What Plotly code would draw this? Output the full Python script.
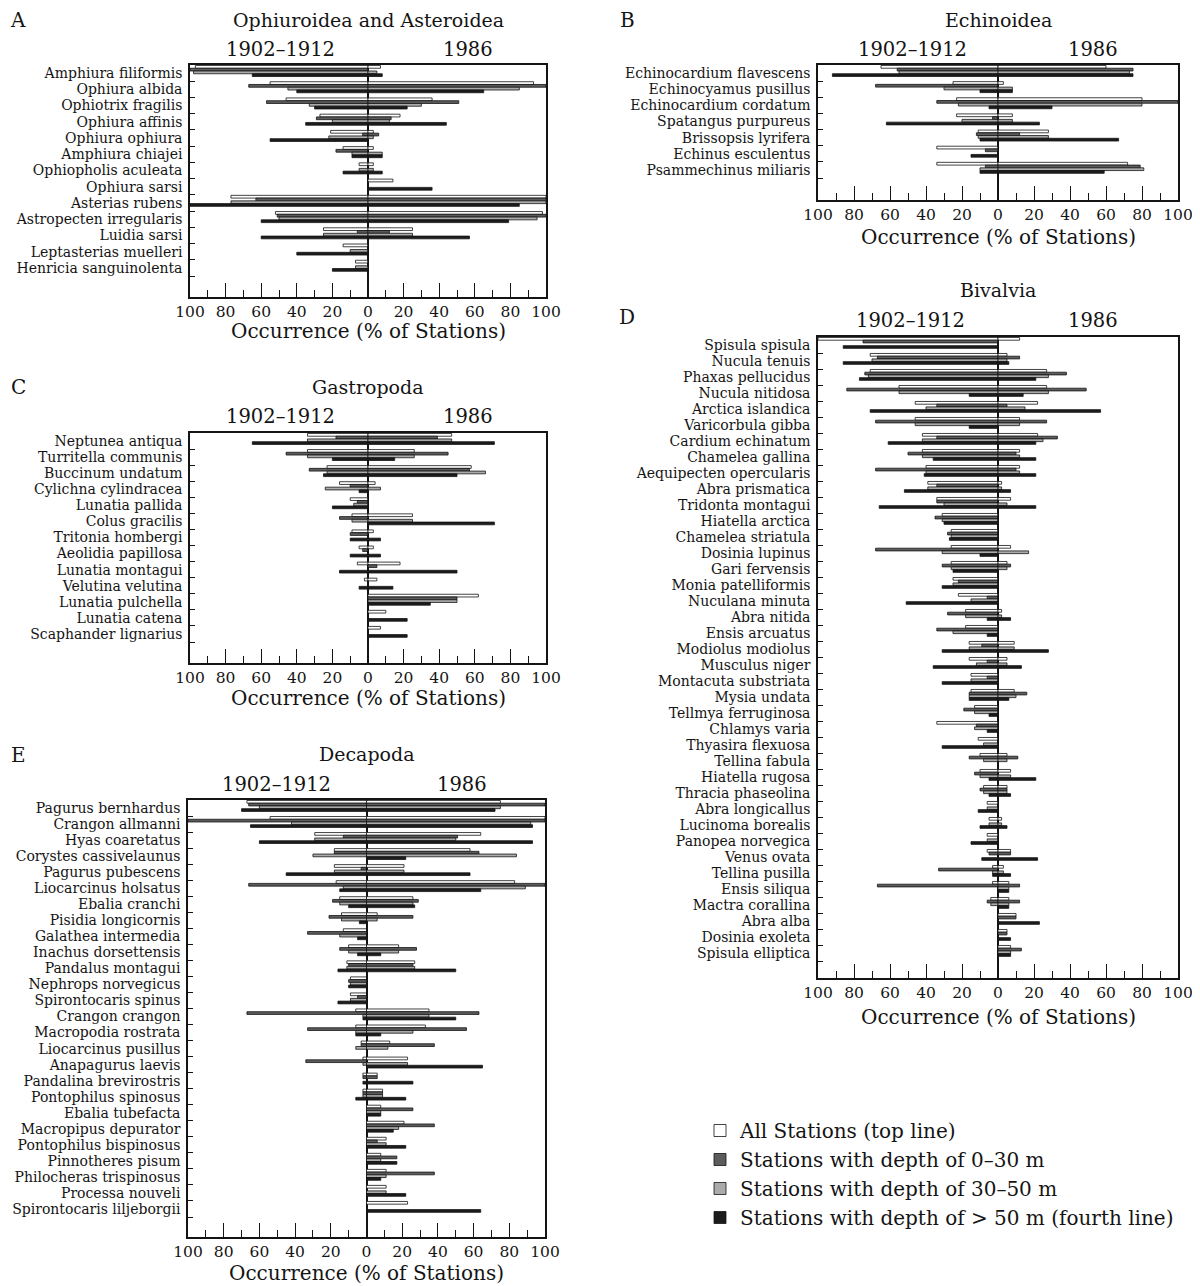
import plotly.graph_objects as go

FONT = "DejaVu Serif"
W, H = 1200, 1286
PAGE_OFF = 8  # browser default body margin offsets the figure on the page

# ---------------- data (occurrence, % of stations) ----------------
# order of depth classes: All stations, 0-30 m, 30-50 m, >50 m
CLASS_NAMES = ["All Stations (top line)", "Stations with depth of 0\u201330 m",
               "Stations with depth of 30\u201350 m", "Stations with depth of > 50 m (fourth line)"]

# Panel A: Ophiuroidea and Asteroidea
A_species = ["Amphiura filiformis", "Ophiura albida", "Ophiotrix fragilis", "Ophiura affinis",
             "Ophiura ophiura", "Amphiura chiajei", "Ophiopholis aculeata", "Ophiura sarsi",
             "Asterias rubens", "Astropecten irregularis", "Luidia sarsi",
             "Leptasterias muelleri", "Henricia sanguinolenta"]
A_all_1902 = [97, 55, 46, 27, 21, 14, 5, 0, 77, 52, 25, 14, 7]
A_d030_1902 = [100, 67, 57, 29, 3, 18, 0, 0, 63, 51, 6, 0, 0]
A_d3050_1902 = [98, 45, 33, 20, 22, 9, 5, 0, 77, 50, 25, 10, 7]
A_d50_1902 = [65, 40, 30, 35, 55, 9, 14, 0, 100, 60, 60, 40, 20]
A_all_1986 = [7, 93, 36, 18, 3, 3, 3, 14, 100, 98, 25, 0, 0]
A_d030_1986 = [0, 100, 51, 13, 6, 0, 0, 0, 100, 100, 12, 0, 0]
A_d3050_1986 = [5, 85, 30, 12, 3, 8, 3, 0, 100, 95, 25, 0, 0]
A_d50_1986 = [8, 65, 22, 44, 0, 8, 8, 36, 85, 79, 57, 0, 0]

# Panel B: Echinoidea
B_species = ["Echinocardium flavescens", "Echinocyamus pusillus", "Echinocardium cordatum",
             "Spatangus purpureus", "Brissopsis lyrifera", "Echinus esculentus",
             "Psammechinus miliaris"]
B_all_1902 = [65, 25, 23, 23, 11, 34, 34]
B_d030_1902 = [56, 68, 34, 3, 12, 7, 7]
B_d3050_1902 = [55, 30, 22, 20, 11, 0, 10]
B_d50_1902 = [92, 10, 5, 62, 10, 15, 10]
B_all_1986 = [60, 3, 80, 8, 28, 0, 72]
B_d030_1986 = [75, 0, 100, 0, 12, 0, 79]
B_d3050_1986 = [73, 8, 80, 8, 28, 0, 81]
B_d50_1986 = [75, 8, 30, 23, 67, 0, 59]

# Panel C: Gastropoda
C_species = ["Neptunea antiqua", "Turritella communis", "Buccinum undatum",
             "Cylichna cylindracea", "Lunatia pallida", "Colus gracilis", "Tritonia hombergi",
             "Aeolidia papillosa", "Lunatia montagui", "Velutina velutina", "Lunatia pulchella",
             "Lunatia catena", "Scaphander lignarius"]
C_all_1902 = [34, 34, 23, 16, 10, 9, 9, 5, 6, 2, 0, 0, 0]
C_d030_1902 = [18, 46, 33, 10, 6, 16, 10, 3, 0, 0, 0, 0, 0]
C_d3050_1902 = [34, 34, 23, 24, 8, 9, 0, 0, 0, 0, 0, 0, 0]
C_d50_1902 = [65, 20, 25, 5, 20, 0, 10, 10, 16, 5, 0, 0, 0]
C_all_1986 = [47, 26, 58, 4, 0, 25, 3, 3, 18, 5, 62, 10, 7]
C_d030_1986 = [39, 45, 57, 0, 0, 0, 0, 0, 5, 0, 50, 0, 0]
C_d3050_1986 = [47, 26, 66, 7, 0, 25, 0, 0, 0, 0, 50, 0, 0]
C_d50_1986 = [71, 15, 50, 0, 0, 71, 7, 7, 50, 14, 35, 22, 22]

# Panel D: Bivalvia
D_species = ["Spisula spisula", "Nucula tenuis", "Phaxas pellucidus", "Nucula nitidosa",
             "Arctica islandica", "Varicorbula gibba", "Cardium echinatum", "Chamelea gallina",
             "Aequipecten opercularis", "Abra prismatica", "Tridonta montagui",
             "Hiatella arctica", "Chamelea striatula", "Dosinia lupinus", "Gari fervensis",
             "Monia patelliformis", "Nuculana minuta", "Abra nitida", "Ensis arcuatus",
             "Modiolus modiolus", "Musculus niger", "Montacuta substriata", "Mysia undata",
             "Tellmya ferruginosa", "Chlamys varia", "Thyasira flexuosa", "Tellina fabula",
             "Hiatella rugosa", "Thracia phaseolina", "Abra longicallus", "Lucinoma borealis",
             "Panopea norvegica", "Venus ovata", "Tellina pusilla", "Ensis siliqua",
             "Mactra corallina", "Abra alba", "Dosinia exoleta", "Spisula elliptica"]
D_all_1902 = [100, 71, 71, 55, 46, 46, 42, 42, 40, 39, 34, 31, 26, 26, 26, 25, 22, 18, 18,
              16, 16, 15, 15, 13, 34, 11, 10, 10, 8, 6, 5, 6, 6, 3, 3, 4, 0, 0, 0]
D_d030_1902 = [75, 67, 74, 84, 34, 68, 34, 50, 68, 34, 34, 35, 28, 68, 31, 22, 6, 28, 34,
               9, 6, 6, 16, 19, 12, 0, 16, 13, 10, 0, 0, 0, 5, 33, 67, 6, 0, 0, 0]
D_d3050_1902 = [0, 70, 72, 55, 40, 46, 42, 42, 40, 39, 30, 31, 26, 31, 26, 25, 15, 18, 25,
                16, 12, 15, 16, 13, 13, 8, 8, 10, 8, 6, 5, 6, 0, 3, 0, 4, 0, 0, 0]
D_d50_1902 = [86, 86, 77, 16, 71, 16, 61, 36, 41, 52, 66, 30, 27, 10, 25, 31, 51, 6, 6,
              31, 36, 31, 16, 5, 6, 31, 0, 5, 5, 11, 10, 15, 9, 3, 0, 0, 0, 0, 0]
D_all_1986 = [12, 5, 27, 27, 22, 12, 22, 12, 12, 2, 7, 0, 0, 7, 5, 0, 0, 2, 0,
              9, 5, 0, 9, 0, 0, 0, 5, 7, 5, 0, 2, 0, 7, 3, 6, 6, 10, 5, 7]
D_d030_1986 = [0, 12, 38, 49, 5, 27, 33, 10, 10, 0, 0, 0, 0, 0, 7, 0, 0, 0, 0,
               0, 0, 0, 16, 0, 0, 0, 11, 0, 5, 0, 0, 0, 7, 0, 12, 12, 10, 5, 13]
D_d3050_1986 = [0, 5, 28, 28, 15, 12, 25, 12, 12, 2, 5, 0, 0, 17, 5, 0, 0, 2, 0,
                9, 5, 0, 10, 0, 0, 0, 5, 7, 5, 0, 2, 0, 0, 3, 6, 6, 0, 0, 7]
D_d50_1986 = [0, 6, 21, 14, 57, 0, 21, 21, 21, 7, 21, 0, 0, 0, 0, 0, 0, 7, 0,
              28, 13, 0, 6, 0, 0, 0, 0, 21, 7, 0, 5, 0, 22, 7, 6, 6, 23, 7, 7]

# Panel E: Decapoda
E_species = ["Pagurus bernhardus", "Crangon allmanni", "Hyas coaretatus",
             "Corystes cassivelaunus", "Pagurus pubescens", "Liocarcinus holsatus",
             "Ebalia cranchi", "Pisidia longicornis", "Galathea intermedia",
             "Inachus dorsettensis", "Pandalus montagui", "Nephrops norvegicus",
             "Spirontocaris spinus", "Crangon crangon", "Macropodia rostrata",
             "Liocarcinus pusillus", "Anapagurus laevis", "Pandalina brevirostris",
             "Pontophilus spinosus", "Ebalia tubefacta", "Macropipus depurator",
             "Pontophilus bispinosus", "Pinnotheres pisum", "Philocheras trispinosus",
             "Processa nouveli", "Spirontocaris liljeborgii"]
E_all_1902 = [67, 54, 29, 18, 18, 17, 15, 14, 13, 10, 11, 9, 9, 6, 6, 3, 2, 2, 2,
              0, 0, 0, 0, 0, 0, 0]
E_d030_1902 = [66, 100, 13, 18, 3, 66, 19, 21, 33, 15, 10, 10, 5, 67, 33, 3, 34, 2, 2,
               0, 0, 0, 0, 0, 0, 0]
E_d3050_1902 = [60, 42, 29, 30, 18, 13, 15, 14, 15, 10, 11, 9, 9, 2, 6, 6, 2, 0, 2,
                0, 0, 0, 0, 0, 0, 0]
E_d50_1902 = [70, 65, 60, 0, 45, 15, 10, 4, 5, 5, 16, 10, 16, 2, 6, 0, 0, 2, 6,
              0, 0, 0, 0, 0, 0, 0]
E_all_1986 = [75, 100, 64, 58, 21, 83, 26, 6, 0, 18, 27, 0, 0, 35, 33, 13, 23, 6, 9,
              8, 21, 11, 8, 11, 11, 23]
E_d030_1986 = [100, 100, 51, 63, 0, 100, 29, 26, 0, 28, 26, 0, 0, 63, 56, 38, 0, 6, 9,
               26, 38, 6, 17, 38, 0, 0]
E_d3050_1986 = [75, 92, 50, 84, 21, 89, 26, 6, 0, 18, 27, 0, 0, 35, 26, 12, 23, 0, 9,
                8, 18, 11, 8, 11, 11, 0]
E_d50_1986 = [72, 93, 93, 22, 58, 64, 27, 0, 0, 8, 50, 0, 0, 50, 8, 0, 65, 26, 22,
              8, 15, 22, 17, 8, 22, 64]

X_TICKS = [-100, -80, -60, -40, -20, 0, 20, 40, 60, 80, 100]
X_TICKTEXT = ["100", "80", "60", "40", "20", "0", "20", "40", "60", "80", "100"]
X_MINOR = [-90, -70, -50, -30, -10, 10, 30, 50, 70, 90]

# ---------------- panel geometry (target page pixels) ----------------
PANELS = [
    dict(letter="A", title="Ophiuroidea and Asteroidea", species=A_species,
         left=[A_all_1902, A_d030_1902, A_d3050_1902, A_d50_1902],
         right=[A_all_1986, A_d030_1986, A_d3050_1986, A_d50_1986],
         x0=190, x1=546, top=65, rows_end=276, bottom=297,
         title_y=20, head_y=50, head_x=(280, 468), letter_xy=(18, 20),
         axtitle_y=331),
    dict(letter="B", title="Echinoidea", species=B_species,
         left=[B_all_1902, B_d030_1902, B_d3050_1902, B_d50_1902],
         right=[B_all_1986, B_d030_1986, B_d3050_1986, B_d50_1986],
         x0=818, x1=1178, top=65, rows_end=178, bottom=200,
         title_y=20, head_y=50, head_x=(912, 1093), letter_xy=(627, 20),
         axtitle_y=237),
    dict(letter="C", title="Gastropoda", species=C_species,
         left=[C_all_1902, C_d030_1902, C_d3050_1902, C_d50_1902],
         right=[C_all_1986, C_d030_1986, C_d3050_1986, C_d50_1986],
         x0=190, x1=546, top=433, rows_end=642, bottom=663,
         title_y=387, head_y=417, head_x=(280, 468), letter_xy=(18, 387),
         axtitle_y=698),
    dict(letter="D", title="Bivalvia", species=D_species,
         left=[D_all_1902, D_d030_1902, D_d3050_1902, D_d50_1902],
         right=[D_all_1986, D_d030_1986, D_d3050_1986, D_d50_1986],
         x0=818, x1=1178, top=337, rows_end=961, bottom=978,
         title_y=290, head_y=320, head_x=(911, 1093), letter_xy=(627, 317),
         axtitle_y=1017),
    dict(letter="E", title="Decapoda", species=E_species,
         left=[E_all_1902, E_d030_1902, E_d3050_1902, E_d50_1902],
         right=[E_all_1986, E_d030_1986, E_d3050_1986, E_d50_1986],
         x0=188, x1=545, top=800, rows_end=1217, bottom=1237,
         title_y=754, head_y=784, head_x=(276, 462), letter_xy=(18, 755),
         axtitle_y=1273),
]

COLORS = ["#ffffff", "#5c5c5c", "#ababab", "#1c1c1c"]
BAR_W = 0.17
OFFSETS = [-0.47, -0.30, -0.13, 0.04]
INK = "#141414"


def px(x):
    return (x - PAGE_OFF) / W


def py(y):
    return 1 - (y - PAGE_OFF) / H


fig = go.Figure()
layout = dict(
    width=W, height=H, margin=dict(l=0, r=0, t=0, b=0, autoexpand=False),
    paper_bgcolor="white", plot_bgcolor="white",
    barmode="overlay", font=dict(family=FONT, color=INK),
    hovermode=False,
    legend=dict(x=px(700), y=py(1111), xanchor="left", yanchor="top",
                font=dict(family=FONT, size=20, color=INK),
                bgcolor="rgba(0,0,0,0)", itemwidth=30, tracegroupgap=0,
                itemclick=False, itemdoubleclick=False),
)
annotations = []

for i, p in enumerate(PANELS, start=1):
    n = len(p["species"])
    pitch = (p["rows_end"] - p["top"]) / n
    extra = (p["bottom"] - p["rows_end"]) / pitch
    xa, ya = f"x{i}", f"y{i}"
    ys = list(range(n))
    for k in range(4):
        for side, vals in (("left", p["left"][k]), ("right", p["right"][k])):
            xv = [-v for v in vals] if side == "left" else list(vals)
            fig.add_trace(go.Bar(
                y=ys, x=xv, orientation="h", offset=OFFSETS[k], width=BAR_W,
                marker=dict(color=COLORS[k], line=dict(color=INK, width=0.8)),
                xaxis=xa, yaxis=ya, name=CLASS_NAMES[k], legendgroup=CLASS_NAMES[k],
                showlegend=(i == 1 and side == "right"),
            ))
    sfx = "" if i == 1 else str(i)
    layout["xaxis" + sfx] = dict(
        domain=[px(p["x0"]), px(p["x1"])], anchor=ya, range=[-100, 100],
        automargin=False,
        tickmode="array", tickvals=X_TICKS, ticktext=X_TICKTEXT,
        ticks="inside", ticklen=14, tickwidth=1.4, tickcolor=INK,
        minor=dict(ticks="inside", ticklen=7, tickwidth=1.2, tickcolor=INK,
                   tickmode="array", tickvals=X_MINOR, showgrid=False),
        showline=True, linecolor=INK, linewidth=1.5, mirror=True,
        zeroline=True, zerolinecolor=INK, zerolinewidth=1.5, showgrid=False,
        tickfont=dict(family=FONT, size=15.5, color=INK), fixedrange=True,
    )
    layout["yaxis" + sfx] = dict(
        domain=[py(p["bottom"]), py(p["top"])], anchor=xa,
        range=[n - 0.5 + extra, -0.5], automargin=False,
        tickmode="array", tickvals=ys, ticktext=p["species"], ticks="",
        minor=dict(ticks="inside", ticklen=5, tickwidth=1.2, tickcolor=INK,
                   tickmode="array", tickvals=[j + 0.5 for j in range(n)], showgrid=False),
        showline=True, linecolor=INK, linewidth=1.5, mirror=True,
        zeroline=False, showgrid=False, ticklabelstandoff=3,
        tickfont=dict(family=FONT, size=14, color=INK), fixedrange=True,
    )
    cx = (p["x0"] + p["x1"]) / 2
    annotations += [
        dict(text=p["letter"], x=px(p["letter_xy"][0]), y=py(p["letter_xy"][1]),
             xanchor="center", yanchor="middle", font=dict(size=20)),
        dict(text=p["title"], x=px(cx), y=py(p["title_y"]),
             xanchor="center", yanchor="middle", font=dict(size=19)),
        dict(text="1902\u20131912", x=px(p["head_x"][0]), y=py(p["head_y"]),
             xanchor="center", yanchor="middle", font=dict(size=19.5)),
        dict(text="1986", x=px(p["head_x"][1]), y=py(p["head_y"]),
             xanchor="center", yanchor="middle", font=dict(size=19.5)),
        dict(text="Occurrence (% of Stations)", x=px(cx), y=py(p["axtitle_y"]),
             xanchor="center", yanchor="middle", font=dict(size=20)),
    ]

for a in annotations:
    a.update(xref="paper", yref="paper", showarrow=False)
    a["font"].update(family=FONT, color=INK)
layout["annotations"] = annotations
fig.update_layout(**layout)
fig.write_html("out.html")
